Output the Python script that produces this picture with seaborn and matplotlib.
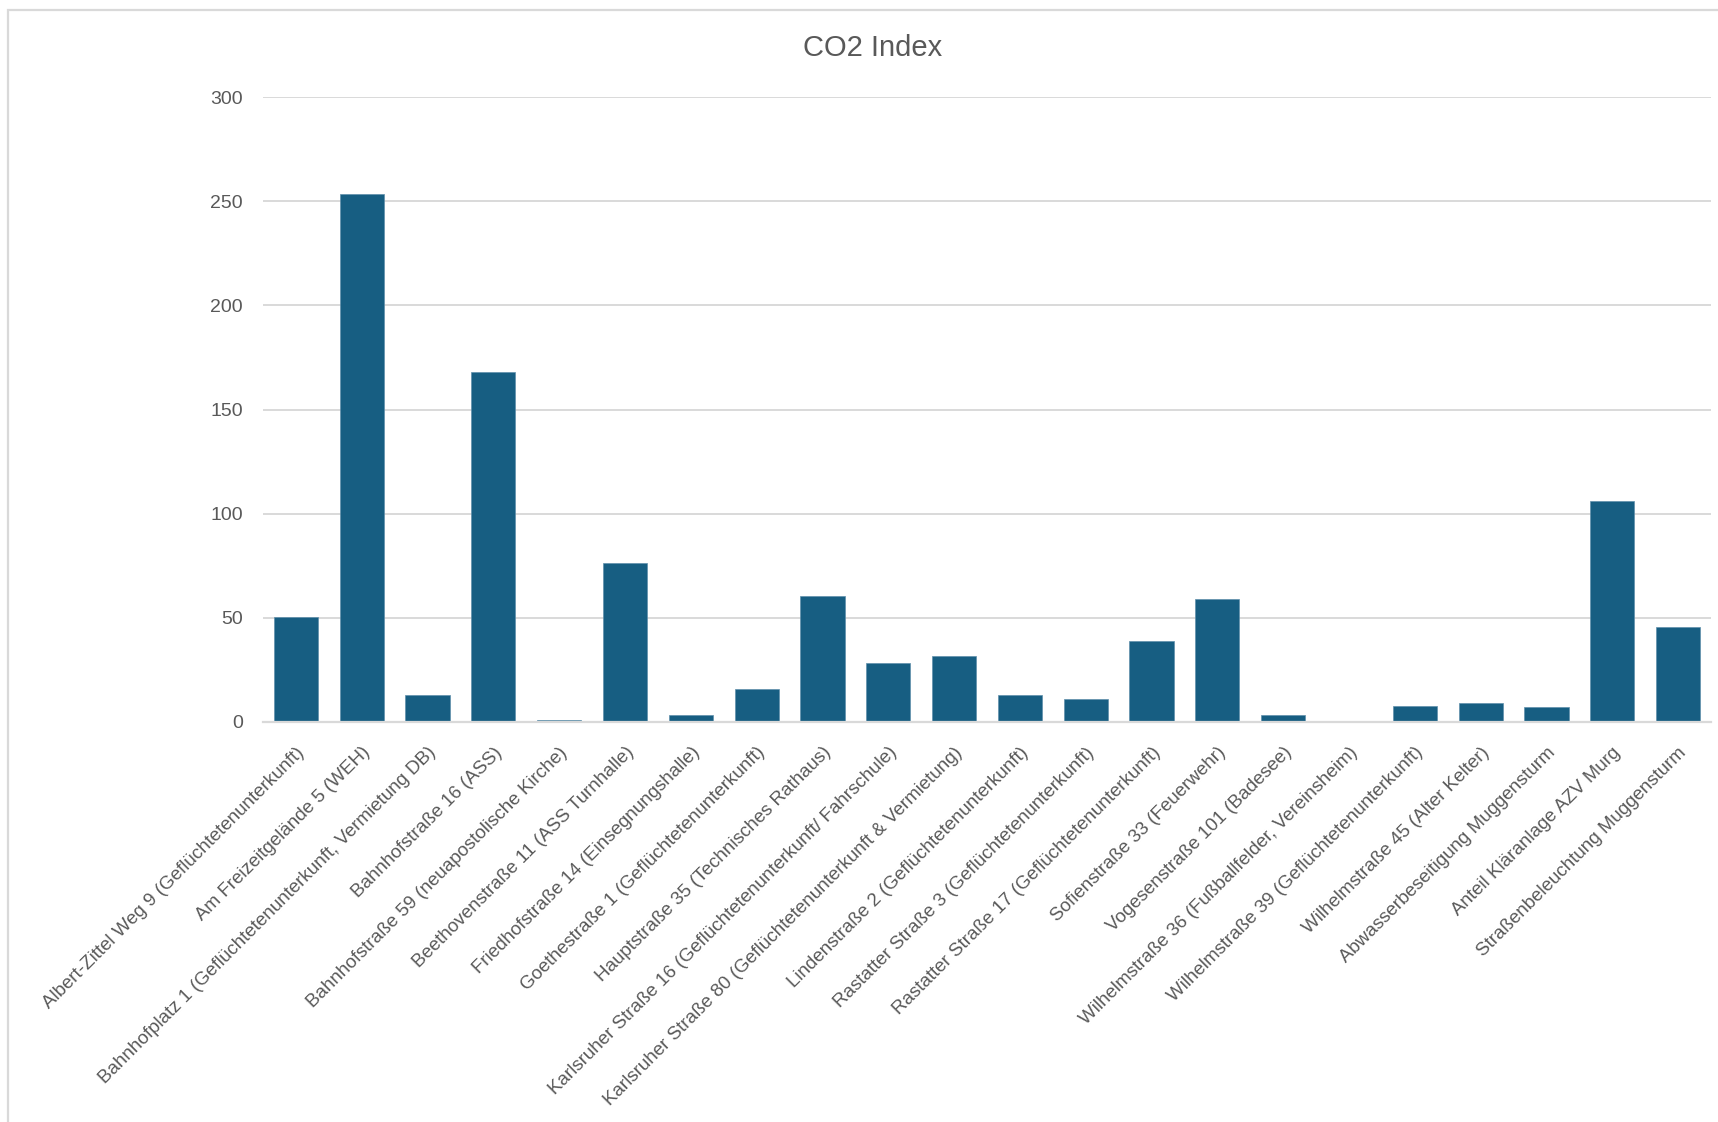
import matplotlib
matplotlib.use("Agg")
import matplotlib.pyplot as plt
from matplotlib.patches import Rectangle
import seaborn as sns
import pandas as pd

categories = [
    "Albert-Zittel Weg 9 (Geflüchtetenunterkunft)",
    "Am Freizeitgelände 5 (WEH)",
    "Bahnhofplatz 1 (Geflüchtetenunterkunft, Vermietung DB)",
    "Bahnhofstraße 16 (ASS)",
    "Bahnhofstraße 59 (neuapostolische Kirche)",
    "Beethovenstraße 11 (ASS Turnhalle)",
    "Friedhofstraße 14 (Einsegnungshalle)",
    "Goethestraße 1 (Geflüchtetenunterkunft)",
    "Hauptstraße 35 (Technisches Rathaus)",
    "Karlsruher Straße 16 (Geflüchtetenunterkunft/ Fahrschule)",
    "Karlsruher Straße 80 (Geflüchtetenunterkunft & Vermietung)",
    "Lindenstraße 2 (Geflüchtetenunterkunft)",
    "Rastatter Straße 3 (Geflüchtetenunterkunft)",
    "Rastatter Straße 17 (Geflüchtetenunterkunft)",
    "Sofienstraße 33 (Feuerwehr)",
    "Vogesenstraße 101 (Badesee)",
    "Wilhelmstraße 36 (Fußballfelder, Vereinsheim)",
    "Wilhelmstraße 39 (Geflüchtetenunterkunft)",
    "Wilhelmstraße 45 (Alter Kelter)",
    "Abwasserbeseitigung Muggensturm",
    "Anteil Kläranlage AZV Murg",
    "Straßenbeleuchtung Muggensturm",
]
co2_index = [50.5, 253.4, 13.0, 168.2, 1.0, 76.2, 3.2, 15.7, 60.4, 28.2, 31.4,
             13.0, 10.9, 38.7, 58.8, 3.2, 0.0, 7.5, 9.1, 7.1, 106.1, 45.7]
y_ticks = [0, 50, 100, 150, 200, 250, 300]
title = "CO2 Index"

sns.set_theme(style="white")
plt.rcParams['font.family'] = ['Liberation Sans', 'DejaVu Sans']

df = pd.DataFrame({"cat": categories, "val": co2_index})

fig = plt.figure(figsize=(17.18, 11.22), dpi=100)
ax = fig.add_axes([263/1718, 400.3/1122, (1711-263)/1718, 624.4/1122])

sns.barplot(data=df, x="cat", y="val", color="#175E82", saturation=1,
            width=0.67, ax=ax, edgecolor="#5f8fab", linewidth=0.5)

ax.set_ylim(0, 300)
ax.set_yticks(y_ticks)
ax.set_yticklabels([str(t) for t in y_ticks])
ax.set_xlim(-0.5, len(categories) - 0.5)
ax.yaxis.grid(True, color="#d9d9d9", linewidth=1.4)
ax.set_axisbelow(True)
for s in ["top", "right", "left"]:
    ax.spines[s].set_visible(False)
ax.spines["bottom"].set_color("#d9d9d9")
ax.spines["bottom"].set_linewidth(1.6)
ax.set_xlabel("")
ax.set_ylabel("")
ax.tick_params(axis="y", length=0, pad=14.4, labelsize=14, labelcolor="#595959")
ax.tick_params(axis="x", length=0, pad=16, labelsize=13.5, labelcolor="#595959")
ax.set_xticks(range(len(categories)))
ax.set_xticklabels(categories, rotation=45, ha="right", rotation_mode="anchor")

fig.text(873/1718, 1 - 48/1122, title, ha="center", va="center",
         fontsize=21, color="#595959")

fig.add_artist(Rectangle((8/1718, -0.05), 1.2, 1 - 10/1122 + 0.05,
                         transform=fig.transFigure, fill=False,
                         edgecolor="#d9d9d9", linewidth=1.6))

fig.savefig("out.png", dpi=100, facecolor="white")
